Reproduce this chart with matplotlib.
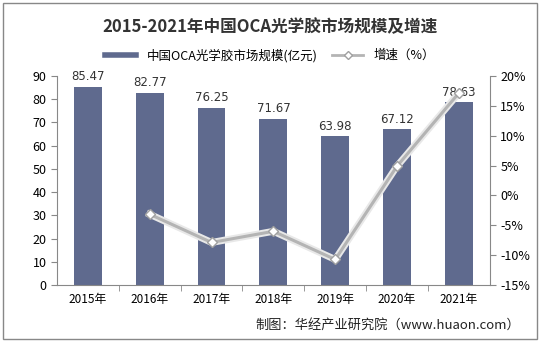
import matplotlib.pyplot as plt
from matplotlib.patches import Rectangle

plt.rcParams['font.family'] = ['Noto Sans CJK SC', 'DejaVu Sans']

years = ['2015年', '2016年', '2017年', '2018年', '2019年', '2020年', '2021年']
market = [85.47, 82.77, 76.25, 71.67, 63.98, 67.12, 78.63]
growth = [None, -3.16, -7.88, -6.01, -10.73, 4.91, 17.15]

fig = plt.figure(figsize=(5.4, 3.42), dpi=100)
ax = fig.add_axes([0.1056, 0.1667, 0.8014, 0.6111])
x = list(range(len(years)))

ax.bar(x, market, width=0.45, color='#5f6a8e', zorder=2)
for xi, v in zip(x, market):
    ax.text(xi, v + 1.5, f'{v:.2f}', ha='center', va='bottom', fontsize=8.5,
            color='#333333', family='DejaVu Sans')

ax.set_xlim(-0.5, len(years) - 0.5)
ax.set_ylim(0, 90)
ax.set_yticks(range(0, 91, 10))
ax.set_xticks(x)
ax.set_xticklabels(years, fontsize=8.5)
ax.set_xticks([i + 0.5 for i in x[:-1]], minor=True)
ax.tick_params(axis='x', which='major', length=0, pad=6)
ax.tick_params(axis='x', which='minor', length=4, color='#888888')
ax.tick_params(axis='y', labelsize=9, length=4, color='#888888')
for s in ['top', 'right']:
    ax.spines[s].set_visible(False)
for s in ['left', 'bottom']:
    ax.spines[s].set_color('#888888')

ax2 = ax.twinx()
gx = [xi for xi, g in zip(x, growth) if g is not None]
gy = [g for g in growth if g is not None]
ax2.plot(gx, gy, color='#e8e8e8', lw=5, zorder=3)
ax2.plot(gx, gy, color='#b4b4b4', lw=2.2, marker='D', ms=5,
         mfc='white', mec='#a0a0a0', mew=1, zorder=4)
ax2.set_ylim(-15, 20)
ax2.set_yticks(range(-15, 21, 5))
ax2.set_yticklabels([f'{t}%' for t in range(-15, 21, 5)])
ax2.tick_params(axis='y', labelsize=9, length=4, color='#888888')
for s in ['top', 'left', 'bottom']:
    ax2.spines[s].set_visible(False)
ax2.spines['right'].set_color('#888888')

ax.plot([], [], color='#5f6a8e', lw=4, label='中国OCA光学胶市场规模(亿元)')
ax.plot([], [], color='#b4b4b4', lw=2, marker='D', ms=4, mfc='white',
        mec='#a0a0a0', label='增速（%）')
fig.legend(loc='center', bbox_to_anchor=(0.5, 0.838), ncol=2, frameon=False,
           fontsize=9, handlelength=2.5, columnspacing=1.2)

fig.text(0.5, 0.92, '2015-2021年中国OCA光学胶市场规模及增速', ha='center',
         va='center', fontsize=12, fontweight='bold', color='#333333')
fig.text(0.963, 0.048, '制图：华经产业研究院（www.huaon.com）', ha='right',
         va='center', fontsize=9.5, color='#222222')

fig.patches.append(Rectangle((0.006, 0.01), 0.988, 0.98, transform=fig.transFigure,
                             fill=False, edgecolor='#888888', lw=1))

fig.savefig('out.png', dpi=100)
